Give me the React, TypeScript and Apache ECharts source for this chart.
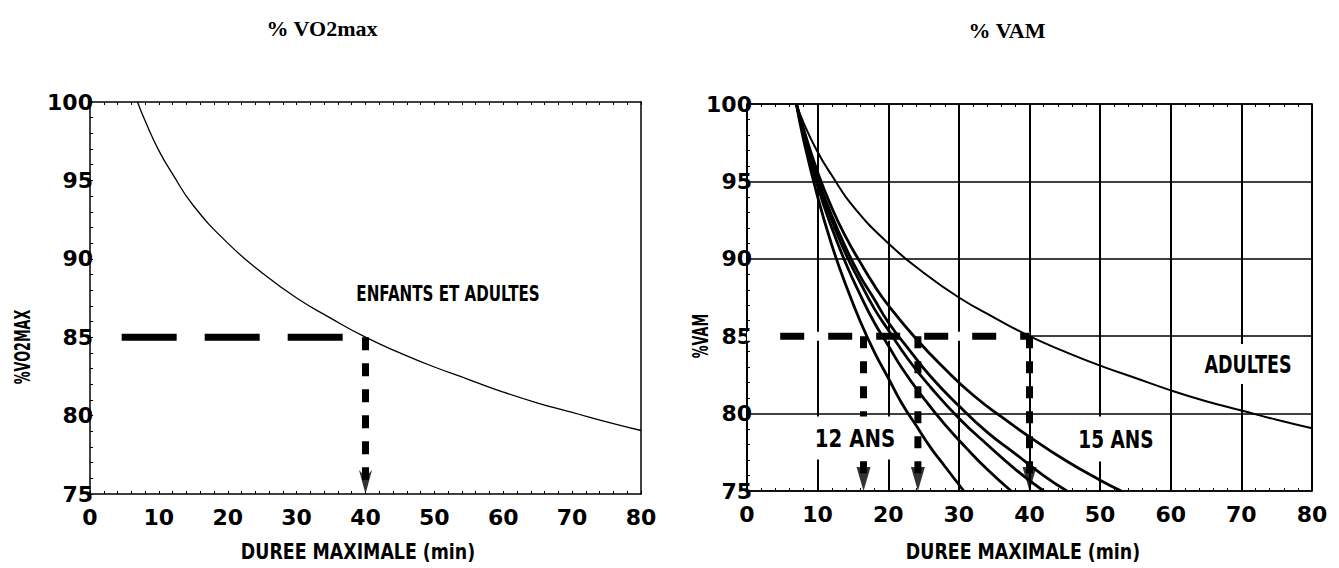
import React, { useEffect, useRef } from "react";
import * as echarts from "echarts";

// ---- data (minutes, % of max) ----
const xTicks = { min: 0, max: 80, step: 10 };
const yTicks = { min: 75, max: 100, step: 5 };

const adultCurve: number[][] = [
  [6.9, 100], [8, 98.8], [10, 96.9], [12, 95.4], [15, 93.4], [20, 91.0], [25, 89.1],
  [30, 87.5], [35, 86.2], [40, 85.0], [45, 84.0], [50, 83.1], [55, 82.3], [60, 81.5],
  [65, 80.8], [70, 80.2], [75, 79.6], [80, 79.05],
];
const age12Curve: number[][] = [
  [7, 100], [8, 97.7], [10, 94.0], [12, 90.9], [14, 88.3], [16, 86.0], [18, 84.0],
  [20, 82.3], [22, 80.6], [24, 79.2], [26, 77.8], [28, 76.6], [30.7, 75],
];
const age13Curve: number[][] = [
  [7, 100], [8, 98.0], [10, 94.7], [12, 92.0], [14, 89.7], [16, 87.7], [18, 85.9],
  [20, 84.4], [22, 82.9], [25, 81.0], [28, 79.3], [31, 77.8], [34, 76.4], [37.4, 75],
];
const age14Curve: number[][] = [
  [7, 100], [8, 98.1], [10, 95.0], [12, 92.5], [14, 90.3], [16, 88.5], [18, 86.8],
  [20, 85.4], [23, 83.4], [26, 81.7], [30, 79.7], [34, 78.0], [38, 76.4], [42, 75],
];
const age145Curve: number[][] = [
  [7, 100], [8, 98.2], [10, 95.2], [12, 92.8], [14, 90.7], [16, 88.9], [18, 87.4],
  [20, 85.9], [23, 84.1], [26, 82.4], [30, 80.5], [34, 78.8], [38, 77.4], [42, 76.0], [45.3, 75],
];
const age15Curve: number[][] = [
  [7, 100], [8, 98.4], [10, 95.6], [12, 93.3], [14, 91.4], [16, 89.8], [18, 88.3],
  [20, 87.0], [24, 84.8], [28, 82.9], [32, 81.2], [36, 79.8], [40, 78.5], [45, 77.0],
  [50, 75.7], [53, 75],
];

const refLevel = 85;
const leftDashStart = 4.6;
const rightDashStart = 4.7;
const leftArrowTimes = [40];
const rightArrowTimes = [16.5, 24.2, 40];

const titles = ["% VO2max", "% VAM"];
const xName = "DUREE MAXIMALE (min)";
const yNames = ["%VO2MAX", "%VAM"];
const notes = ["ENFANTS ET ADULTES", "12 ANS", "15 ANS", "ADULTES"];

const labelFont = { color: "#000", fontFamily: "DejaVu Sans", fontWeight: "bold" as const, fontSize: 22 };
const arrowNotched = "path://M0,0 L7,7 L14,0 L7,24 Z";
const arrowSolid = "path://M0,0 L14,0 L7,24 Z";
const heavy = (px: number) => `bold ${px}px 'DejaVu Sans'`;

function xAxisDef(grid: number, top: boolean, split: boolean) {
  return {
    gridIndex: grid, type: "value", min: xTicks.min, max: xTicks.max, interval: xTicks.step,
    position: top ? "top" : "bottom",
    axisLine: { show: true, onZero: false, lineStyle: { color: "#000", width: 1.5 } },
    axisTick: { show: true, inside: true, length: 3, lineStyle: { color: "#000", width: 1 } },
    minorTick: { show: true, splitNumber: 5, length: 3, lineStyle: { color: "#000", width: 1 } },
    axisLabel: top ? { show: false } : { ...labelFont, margin: 12 },
    splitLine: { show: split && !top, lineStyle: { color: "#000", width: 2 } },
  };
}
function yAxisDef(grid: number, right: boolean, split: boolean, margin: number) {
  return {
    gridIndex: grid, type: "value", min: yTicks.min, max: yTicks.max, interval: yTicks.step,
    position: right ? "right" : "left",
    axisLine: { show: true, onZero: false, lineStyle: { color: "#000", width: 1.5 } },
    axisTick: { show: !right, inside: true, length: 3, lineStyle: { color: "#000", width: 1 } },
    minorTick: { show: !right, splitNumber: 5, length: 3, lineStyle: { color: "#000", width: 1 } },
    axisLabel: right ? { show: false } : { ...labelFont, margin },
    splitLine: { show: split && !right, lineStyle: { color: "#000", width: 1.5 } },
  };
}

function curve(data: number[][], xi: number, yi: number, width: number, z = 3) {
  return {
    type: "line", xAxisIndex: xi, yAxisIndex: yi, data, smooth: true, symbol: "none", z,
    lineStyle: { color: "#000", width }, silent: true,
  };
}
function seg(data: number[][], xi: number, yi: number, width: number, dash: number[] | string, color = "#000", z = 4) {
  return {
    type: "line", xAxisIndex: xi, yAxisIndex: yi, data, symbol: "none", z,
    lineStyle: { color, width, type: dash, cap: "butt" }, silent: true,
  };
}

export default function App() {
  const ref = useRef<HTMLDivElement>(null);
  useEffect(() => {
    if (!ref.current) return;
    const chart = echarts.init(ref.current, undefined, { renderer: "svg" });

    const series: any[] = [
      curve(adultCurve, 0, 0, 1.3),
      seg([[leftDashStart, refLevel], [leftArrowTimes[0], refLevel]], 0, 0, 7, [55, 28]),
      ...leftArrowTimes.map((t) => seg([[t, refLevel], [t, yTicks.min + 0.9]], 0, 0, 7, [13, 13])),
      {
        type: "scatter", xAxisIndex: 0, yAxisIndex: 0, symbol: arrowNotched, symbolSize: [13, 24],
        symbolOffset: [0, -12], clip: false, z: 5, silent: true, itemStyle: { color: "#000" },
        data: leftArrowTimes.map((t) => [t, yTicks.min]),
      },
      // right chart
      seg([[xTicks.min, refLevel], [rightArrowTimes[2], refLevel]], 2, 2, 9, "solid", "#fff", 1),
      curve(adultCurve.map((p, i) => (i === 0 ? [7, 100] : p)), 2, 2, 2),
      curve(age12Curve, 2, 2, 2.8),
      curve(age13Curve, 2, 2, 2.8),
      curve(age14Curve, 2, 2, 2.8),
      curve(age145Curve, 2, 2, 2.8),
      curve(age15Curve, 2, 2, 2.8),
      seg([[rightDashStart, refLevel], [rightArrowTimes[2], refLevel]], 2, 2, 7, [24, 24]),
      ...rightArrowTimes.map((t) => seg([[t, refLevel], [t, yTicks.min + 0.9]], 2, 2, 7, [12, 13])),
      {
        type: "scatter", xAxisIndex: 2, yAxisIndex: 2, symbol: arrowSolid, symbolSize: [14, 24],
        symbolOffset: [0, -12], clip: false, z: 5, silent: true, itemStyle: { color: "#000" },
        data: rightArrowTimes.map((t) => [t, yTicks.min]),
      },
    ];

    const txt = (text: string, x: number, y: number, font: string, sx = 1, extra: any = {}) => ({
      type: "text", x, y, scaleX: sx, z: 100, silent: true, ...extra,
      style: { text, font, fill: "#000", align: "center", verticalAlign: "middle", ...(extra.style || {}) },
    });
    const boxed = (text: string, x: number, y: number, font: string, sx: number, pad: number[]) =>
      txt(text, x, y, font, sx, { style: { backgroundColor: "#fff", padding: pad } });

    const graphic = [
      txt(titles[0], 322, 28, "bold 22px 'Liberation Serif'"),
      txt(titles[1], 1007, 30, "bold 22px 'Liberation Serif'"),
      txt(xName, 358, 552, heavy(22), 0.79),
      txt(xName, 1023, 552, heavy(22), 0.79),
      txt(yNames[0], 22, 347, heavy(22), 0.58, { rotation: Math.PI / 2 }),
      txt(yNames[1], 700, 336, heavy(22), 0.58, { rotation: Math.PI / 2 }),
      txt(notes[0], 448, 294, heavy(21), 0.72),
      boxed(notes[1], 855, 438, heavy(25), 0.79, [9, 4]),
      boxed(notes[2], 1116, 439, heavy(25), 0.74, [10, 4]),
      boxed(notes[3], 1248, 364, heavy(24), 0.73, [8, 4]),
    ];

    chart.setOption({
      animation: false,
      backgroundColor: "#fff",
      grid: [
        { left: 90, width: 551, top: 102, height: 392 },
        { left: 747, width: 565, top: 104, height: 387 },
      ],
      xAxis: [xAxisDef(0, false, false), xAxisDef(0, true, false), xAxisDef(1, false, true), xAxisDef(1, true, true)],
      yAxis: [yAxisDef(0, false, false, -3), yAxisDef(0, true, false, 0), yAxisDef(1, false, true, -5), yAxisDef(1, true, true, 0)],
      series,
      graphic,
    });
    return () => chart.dispose();
  }, []);
  return <div ref={ref} style={{ position: "fixed", left: 0, top: 0, width: 1339, height: 568 }} />;
}
